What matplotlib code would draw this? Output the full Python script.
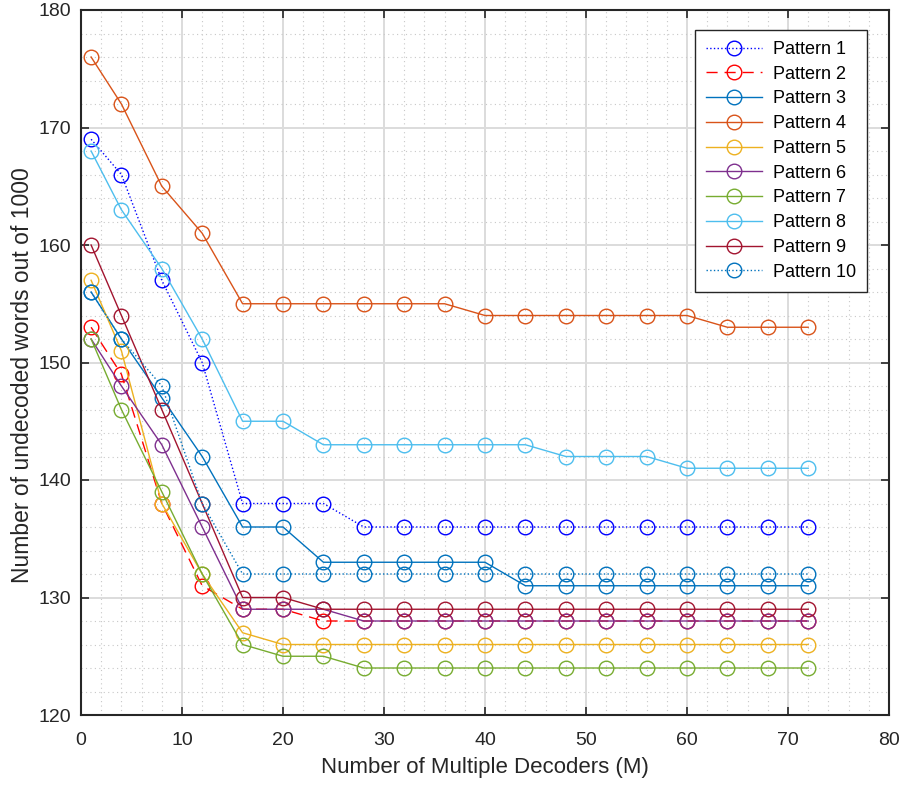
import numpy as np
import matplotlib
matplotlib.use('Agg')
import matplotlib.pyplot as plt
from matplotlib.ticker import MultipleLocator

plt.rcParams['font.family'] = ['Liberation Sans', 'DejaVu Sans']

# decoder counts
M = [1, 4, 8, 12, 16, 20, 24, 28, 32, 36, 40, 44, 48, 52, 56, 60, 64, 68, 72]

p1 = [169, 166, 157, 150, 138, 138, 138, 136, 136, 136, 136, 136, 136, 136, 136, 136, 136, 136, 136]
p2 = [153, 149, 138, 131, 129, 129, 128, 128, 128, 128, 128, 128, 128, 128, 128, 128, 128, 128, 128]
p3 = [156, 152, 147, 142, 136, 136, 133, 133, 133, 133, 133, 131, 131, 131, 131, 131, 131, 131, 131]
p4 = [176, 172, 165, 161, 155, 155, 155, 155, 155, 155, 154, 154, 154, 154, 154, 154, 153, 153, 153]
p5 = [157, 151, 138, 132, 127, 126, 126, 126, 126, 126, 126, 126, 126, 126, 126, 126, 126, 126, 126]
p6 = [152, 148, 143, 136, 129, 129, 129, 128, 128, 128, 128, 128, 128, 128, 128, 128, 128, 128, 128]
p7 = [152, 146, 139, 132, 126, 125, 125, 124, 124, 124, 124, 124, 124, 124, 124, 124, 124, 124, 124]
p8 = [168, 163, 158, 152, 145, 145, 143, 143, 143, 143, 143, 143, 142, 142, 142, 141, 141, 141, 141]
p9 = [160, 154, 146, 138, 130, 130, 129, 129, 129, 129, 129, 129, 129, 129, 129, 129, 129, 129, 129]
p10 = [156, 152, 148, 138, 132, 132, 132, 132, 132, 132, 132, 132, 132, 132, 132, 132, 132, 132, 132]

series = [p1, p2, p3, p4, p5, p6, p7, p8, p9, p10]
labels = ['Pattern %d' % i for i in range(1, 11)]
colors = [(0, 0, 1), (1, 0, 0), (0, 0.447, 0.741), (0.85, 0.325, 0.098),
          (0.929, 0.694, 0.125), (0.494, 0.184, 0.556), (0.466, 0.674, 0.188),
          (0.301, 0.745, 0.933), (0.635, 0.078, 0.184), (0, 0.447, 0.741)]
styles = [':', (0, (8, 5)), '-', '-', '-', '-', '-', '-', '-', ':']

fig = plt.figure(figsize=(9.02, 7.87), dpi=100)
ax = fig.add_axes([81 / 902, 72 / 787, 808 / 902, 705 / 787])

for y, lab, c, ls in zip(series, labels, colors, styles):
    ax.plot(M, y, linestyle=ls, color=c, linewidth=1.0, marker='o', markersize=10.5,
            markerfacecolor='none', markeredgecolor=c, markeredgewidth=1.0, label=lab)

ax.set_xlim(0, 80)
ax.set_ylim(120, 180)
ax.xaxis.set_major_locator(MultipleLocator(10))
ax.yaxis.set_major_locator(MultipleLocator(10))
ax.xaxis.set_minor_locator(MultipleLocator(2))
ax.yaxis.set_minor_locator(MultipleLocator(2))

ax.grid(True, which='major', color='#dcdcdc', linewidth=1.4, linestyle='-')
ax.grid(True, which='minor', color='#c8c8c8', linewidth=0.8, linestyle=(0, (1, 3)))
ax.set_axisbelow(True)

ax.tick_params(which='major', direction='in', length=6, width=1.2, colors='#262626',
               labelsize=14, top=True, right=True)
ax.tick_params(axis='x', which='major', pad=12)
ax.tick_params(axis='y', which='major', pad=7)
ax.tick_params(which='minor', length=0)
for sp in ax.spines.values():
    sp.set_linewidth(1.5)
    sp.set_color('#262626')

ax.set_xlabel('Number of Multiple Decoders (M)', fontsize=16, color='#262626', labelpad=6)
ax.set_ylabel('Number of undecoded words out of 1000', fontsize=16.5, color='#262626')
ax.yaxis.set_label_coords(-0.0585, 0.482)

leg = ax.legend(loc='upper right', bbox_to_anchor=(0.9728, 0.9716), borderaxespad=0,
                fontsize=13, fancybox=False, framealpha=1, edgecolor='#262626',
                handlelength=3.1, labelspacing=0.43, borderpad=0.6, handletextpad=0.6)
leg.get_frame().set_linewidth(1.0)

fig.savefig('out.png', dpi=100)
